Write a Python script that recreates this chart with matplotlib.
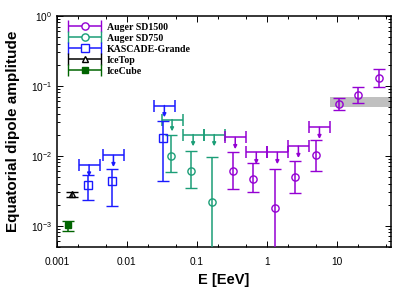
import matplotlib
matplotlib.use("Agg")
import matplotlib.pyplot as plt
import numpy as np
from matplotlib.container import ErrorbarContainer
from matplotlib.legend_handler import HandlerErrorbar

# Auger SD1500: amplitude points (E in EeV) with asymmetric errors
sd1500_e = [0.327, 0.644, 1.30, 2.56, 5.11, 10.9, 20.1, 40.2]
sd1500_d = [0.0060, 0.0047, 0.0018, 0.0049, 0.0101, 0.055, 0.074, 0.129]
sd1500_lo = [0.0033, 0.0030, 0.0001, 0.0029, 0.0061, 0.045, 0.056, 0.095]
sd1500_hi = [0.0114, 0.0078, 0.0064, 0.0085, 0.0168, 0.066, 0.095, 0.173]
# Auger SD1500 upper limits (bin edges in EeV)
sd1500_ul_lo = [0.25, 0.5, 1, 2, 4]
sd1500_ul_hi = [0.5, 1, 2, 4, 8]
sd1500_ul = [0.0182, 0.0111, 0.0111, 0.0136, 0.0254]

# Auger SD750
sd750_e = [0.042, 0.083, 0.166]
sd750_d = [0.0100, 0.0061, 0.0022]
sd750_lo = [0.0058, 0.0035, 0.0001]
sd750_hi = [0.0200, 0.0118, 0.0097]
sd750_ul_lo = [0.03125, 0.0625, 0.125]
sd750_ul_hi = [0.0625, 0.125, 0.25]
sd750_ul = [0.0327, 0.0200, 0.0200]

# KASCADE-Grande
kg_e = [0.00277, 0.00617, 0.0327]
kg_d = [0.0038, 0.0043, 0.0177]
kg_lo = [0.0023, 0.0019, 0.0044]
kg_hi = [0.0053, 0.0065, 0.0310]
kg_ul_lo = [0.00204, 0.00454, 0.0245]
kg_ul_hi = [0.00406, 0.00906, 0.048]
kg_ul = [0.0074, 0.0101, 0.052]

# IceTop / IceCube
icetop_e = [0.00164]
icetop_d = [0.0028]
icetop_lo = [0.0026]
icetop_hi = [0.0030]
icecube_e = [0.00145]
icecube_d = [0.00102]
icecube_lo = [0.00083]
icecube_hi = [0.00118]

# grey band above 8 EeV
band_x = [8, 100]
band_lo = 0.050
band_hi = 0.068

xticks = [0.001, 0.01, 0.1, 1, 10]
xtick_labels = ["0.001", "0.01", "0.1", "1", "10"]
yticks = [1e-3, 1e-2, 1e-1, 1]
ytick_labels = [r"10$^{-3}$", r"10$^{-2}$", r"10$^{-1}$", r"10$^{0}$"]

C_1500 = "#9400d3"
C_750 = "#1b9e77"
C_KG = "#1a1aff"
C_TOP = "black"
C_CUBE = "#006400"
LW = 1.1
CAP = 4.5

plt.rcParams["font.family"] = ["Liberation Sans", "DejaVu Sans"]
plt.rcParams["mathtext.fontset"] = "custom"
plt.rcParams["mathtext.rm"] = "Liberation Sans"
plt.rcParams["mathtext.default"] = "regular"


def points(ax, e, d, lo, hi, color, marker, ms=5.2, fill="none"):
    d = np.array(d)
    yerr = [d - np.array(lo), np.array(hi) - d]
    ax.errorbar(e, d, yerr=yerr, fmt=marker, color=color, ms=ms, mfc=fill,
                mec=color, mew=1.0, elinewidth=LW, capsize=CAP, capthick=LW, zorder=4)


def limits(ax, lo, hi, ul, color):
    lo = np.array(lo)
    hi = np.array(hi)
    mid = np.sqrt(lo * hi)
    ax.errorbar(mid, ul, xerr=[mid - lo, hi - mid], fmt="none", ecolor=color,
                elinewidth=LW, capsize=CAP, capthick=LW, zorder=3)
    for x, y in zip(mid, ul):
        ax.annotate("", xy=(x, y * 0.68), xytext=(x, y),
                    arrowprops=dict(arrowstyle="-|>", color=color, lw=LW,
                                    mutation_scale=5, shrinkA=0, shrinkB=0),
                    zorder=3)


def proxy(ax, color, marker, label, fill="white", ms=5.2):
    return ax.errorbar([np.nan], [np.nan], xerr=[1.0], fmt=marker, color=color,
                       ms=ms, mfc=fill, mec=color, mew=1.0, elinewidth=LW,
                       capsize=CAP, capthick=LW, label=label)


fig = plt.figure(figsize=(4.15, 2.9), dpi=100)
ax = fig.add_axes([0.1373, 0.1493, 0.8041, 0.7966])
ax.set_xscale("log")
ax.set_yscale("log")

ax.fill_between(band_x, band_lo, band_hi, color="#c0c0c0", lw=0, zorder=1)

limits(ax, kg_ul_lo, kg_ul_hi, kg_ul, C_KG)
limits(ax, sd750_ul_lo, sd750_ul_hi, sd750_ul, C_750)
limits(ax, sd1500_ul_lo, sd1500_ul_hi, sd1500_ul, C_1500)

points(ax, sd1500_e, sd1500_d, sd1500_lo, sd1500_hi, C_1500, "o")
points(ax, sd750_e, sd750_d, sd750_lo, sd750_hi, C_750, "o")
points(ax, kg_e, kg_d, kg_lo, kg_hi, C_KG, "s")
points(ax, icetop_e, icetop_d, icetop_lo, icetop_hi, C_TOP, "^", ms=4.5)
points(ax, icecube_e, icecube_d, icecube_lo, icecube_hi, C_CUBE, "s", ms=4.5, fill=C_CUBE)

handles = [
    proxy(ax, C_1500, "o", "Auger SD1500"),
    proxy(ax, C_750, "o", "Auger SD750"),
    proxy(ax, C_KG, "s", "KASCADE-Grande"),
    proxy(ax, C_TOP, "^", "IceTop", ms=4.5),
    proxy(ax, C_CUBE, "s", "IceCube", fill=C_CUBE, ms=4.5),
]

ax.set_xlim(0.001, 59)
ax.set_ylim(5e-4, 1)
ax.set_xticks(xticks, xtick_labels)
ax.set_xticks([m * 10.0 ** k for k in range(-3, 2) for m in (2, 5)], minor=True)
ax.xaxis.set_minor_formatter(plt.NullFormatter())
ax.set_yticks(yticks, ytick_labels)
ax.yaxis.set_minor_locator(matplotlib.ticker.LogLocator(base=10, subs=np.arange(2, 10)))
ax.yaxis.set_minor_formatter(plt.NullFormatter())

ax.tick_params(which="both", direction="in", top=True, right=True, width=0.7)
ax.tick_params(which="major", length=4.3, labelsize=7.3)
ax.tick_params(which="minor", length=2.2)
ax.tick_params(axis="x", which="major", pad=7.5)
ax.tick_params(axis="y", which="major", pad=3.6)
for s in ax.spines.values():
    s.set_linewidth(1.1)

ax.set_xlabel("E [EeV]", fontsize=10.5, fontweight="bold")
ax.set_ylabel("Equatorial dipole amplitude", fontsize=11, fontweight="bold")
ax.xaxis.set_label_coords(0.5, -0.115)
ax.yaxis.set_label_coords(-0.112, 0.5)

ax.legend(handles=handles, loc="upper left", bbox_to_anchor=(0.018, 0.99),
          frameon=False, borderpad=0, handlelength=3.38, handletextpad=0.54,
          labelspacing=0.2, prop=dict(family="Liberation Serif", weight="bold", size=7.1),
          handler_map={ErrorbarContainer: HandlerErrorbar(xerr_size=1.69)})

fig.savefig("out.png", dpi=100)
